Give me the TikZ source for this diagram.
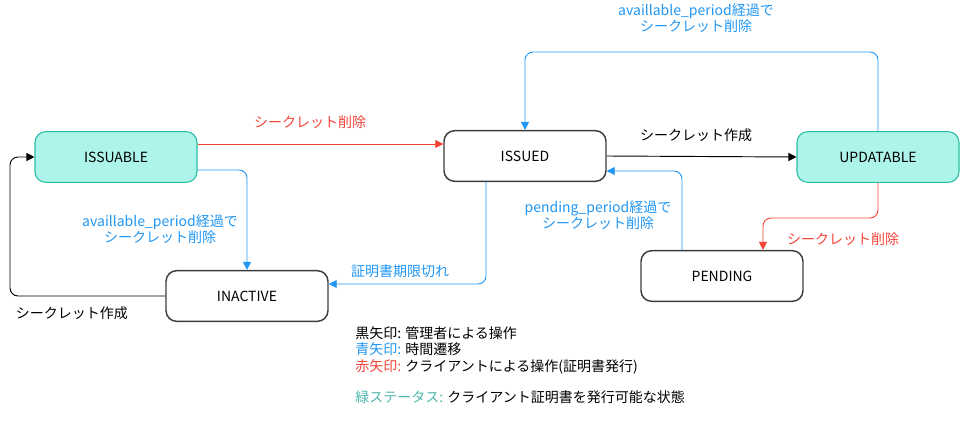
\documentclass[tikz,border=0pt]{standalone}
\usepackage{fontspec}
\setmainfont{Noto Sans CJK JP}
\usepackage{xcolor}
\usetikzlibrary{arrows.meta,positioning,calc}

\definecolor{bluearr}{RGB}{33,150,243}
\definecolor{redarr}{RGB}{244,67,54}
\definecolor{tealfill}{RGB}{173,244,234}
\definecolor{tealdraw}{RGB}{38,190,160}
\definecolor{tealtxt}{RGB}{77,182,172}
\definecolor{boxdraw}{RGB}{60,60,60}

\begin{document}
\begin{tikzpicture}[
  x=0.75pt,y=-0.75pt,
  every node/.style={font=\fontsize{10.5}{12.4}\selectfont},
  state/.style={rectangle,rounded corners=8,draw=boxdraw,line width=1.1pt,
    minimum width=121.5pt,minimum height=38pt,inner sep=0pt},
  green/.style={state,fill=tealfill,draw=tealdraw,line width=0.8pt},
  arr/.style={-{Triangle[length=6pt,width=6pt]},line width=0.7pt,rounded corners=6},
  lbl/.style={align=center,inner sep=0pt}
]
\useasboundingbox (0,0) rectangle (961,439);

% states
\node[green] (issuable) at (116,157) {ISSUABLE};
\node[state] (issued) at (525,156) {ISSUED};
\node[green] (updatable) at (878,157) {UPDATABLE};
\node[state] (inactive) at (247,296) {INACTIVE};
\node[state] (pending) at (722,276) {PENDING};

\coordinate (lft) at (10,230);
\coordinate (top) at (700,52);
\coordinate (mid) at (800,218);

% transitions
\draw[arr,redarr] ($(issuable.east)+(0,-13)$) -- ($(issued.west)+(0,-12)$);
\draw[arr,bluearr] ($(issuable.east)+(0,13)$) -| (inactive.north);
\draw[arr,black] (inactive.west) -| (lft) |- (issuable.west);
\draw[arr,bluearr] ($(issued.south)+(-39,0)$) |- ($(inactive.east)+(0,-12)$);
\draw[arr,black] (issued.east) -- (updatable.west);
\draw[arr,bluearr] (updatable.north) |- (top) -| (issued.north);
\draw[arr,bluearr] ($(pending.north)+(-40,0)$) |- ($(issued.east)+(0,15)$);
\draw[arr,redarr] (updatable.south) |- (mid) -| ($(pending.north)+(41,0)$);

% labels
\node[lbl,text=redarr] (l1) at (310,122) {シークレット削除};
\node[lbl,text=bluearr] (l2) at (160,229) {availlable\_period経過で\\シークレット削除};
\node[lbl] (l3) at (72,313) {シークレット作成};
\node[lbl,text=bluearr] (l4) at (400,271) {証明書期限切れ};
\node[lbl] (l5) at (696,135) {シークレット作成};
\node[lbl,text=bluearr] (l6) at (696,18) {availlable\_period経過で\\シークレット削除};
\node[lbl,text=bluearr] (l7) at (598,215) {pending\_period経過で\\シークレット削除};
\node[lbl,text=redarr] (l8) at (843,239) {シークレット削除};

% legend
\node[align=left,anchor=north west,inner sep=0pt] (legend) at (355,326)
  {黒矢印: 管理者による操作\\
   \textcolor{bluearr}{青矢印:} 時間遷移\\
   \textcolor{redarr}{赤矢印:} クライアントによる操作(証明書発行)\\[11pt]
   \textcolor{tealtxt}{緑ステータス:} クライアント証明書を発行可能な状態};
\end{tikzpicture}
\end{document}
